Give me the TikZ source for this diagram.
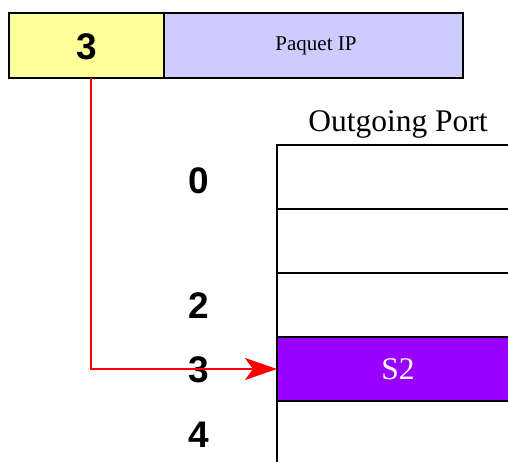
\documentclass[tikz,border=0pt]{standalone}
\usepackage{fontspec}
\setmainfont{Liberation Serif}
\setsansfont{Liberation Sans}
\usetikzlibrary{positioning,calc,arrows.meta}
\definecolor{hdryellow}{HTML}{FFFF99}
\definecolor{hdrlav}{HTML}{CCCCFF}
\definecolor{portpurple}{HTML}{9900FF}
\definecolor{lookup}{HTML}{FF0000}
\tikzset{
  box/.style      = {draw=black, line width=2.8pt, inner sep=0pt, outer sep=0pt},
  hdrbox/.style   = {box, minimum height=65pt},
  cell/.style     = {box, fill=white, minimum width=242pt, minimum height=64pt},
  digit/.style    = {font=\fontsize{37}{40}\selectfont\sffamily\bfseries, inner sep=0pt},
  serifsm/.style  = {font=\fontsize{21}{24}\selectfont},
  seriflg/.style  = {font=\fontsize{31.5}{34}\selectfont},
  lookarrow/.style= {-{Stealth[length=32pt,width=22pt,inset=8pt]}, draw=lookup, line width=2pt},
}
\begin{document}
\begin{tikzpicture}[x=1pt,y=-1pt]
\path[use as bounding box] (0,0) rectangle (508,462);

% ---------- packet header ----------
\node[hdrbox, fill=hdryellow, minimum width=155pt] (hdrnum) at (86.5,45.5) {};
\node[hdrbox, fill=hdrlav, minimum width=299pt] (hdrip) at (313.5,45.5) {};
\node[digit] (hdrnumtxt) at (87,47) {3};
\node[serifsm] (hdriptxt) at (316,46) {Paquet IP};

% ---------- outgoing port table ----------
\node[seriflg] (porttitle) at (398,124) {Outgoing Port};
\node[cell] (cell0) at (398,177) {};
\node[cell] (cell1) at (398,241) {};
\node[cell] (cell2) at (398,305) {};
\node[cell, fill=portpurple] (cell3) at (398,369) {};
\node[cell] (cell4) at (398,433) {};
\node[seriflg, text=white] (s2) at (cell3) {S2};

% row indices
\node[digit] (idx0) at (199,181) {0};
\node[digit] (idx2) at (199,306) {2};
\node[digit] (idx3) at (199,370) {3};
\node[digit] (idx4) at (199,435) {4};

% ---------- lookup ----------
\draw[lookarrow] ($(hdrnum.south)+(4.5,0)$) |- (cell3.west);

\end{tikzpicture}
\end{document}
